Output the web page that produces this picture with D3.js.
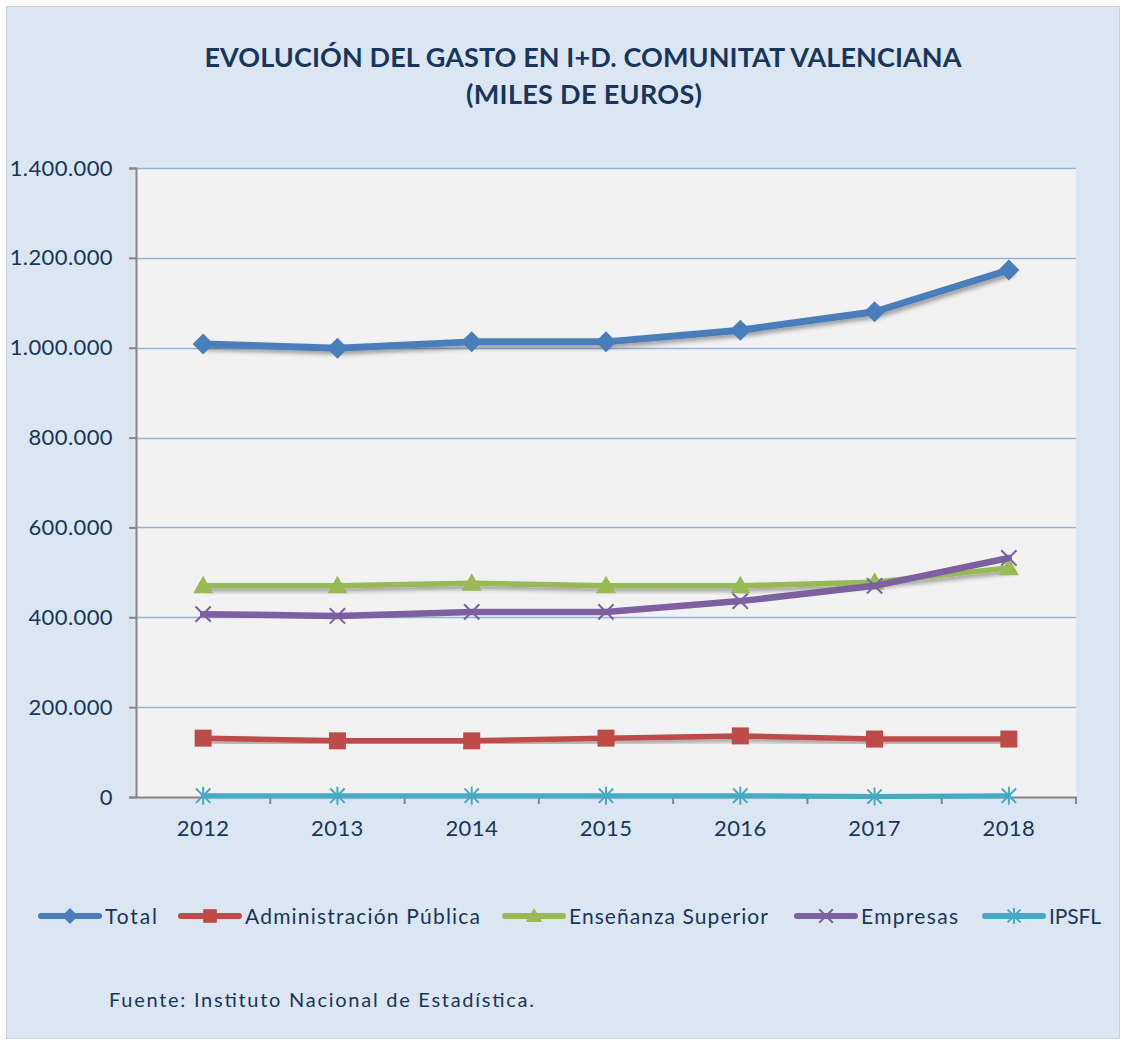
<!DOCTYPE html>
<html>
<head>
<meta charset="utf-8">
<script src="https://cdn.jsdelivr.net/npm/d3@7"></script>
<style>
  body { margin: 0; background: #ffffff; }
  svg { display: block; font-family: Lato, "Open Sans", sans-serif; }
</style>
</head>
<body>
<div id="chart"></div>
<script>
// data (miles de euros)
const years = ["2012", "2013", "2014", "2015", "2016", "2017", "2018"];
const total = [1008000, 999000, 1013000, 1013000, 1039000, 1080000, 1173000];
const administracion = [131000, 125000, 125000, 131000, 136000, 129000, 129000];
const ensenanza = [470000, 470000, 476000, 470000, 470000, 478000, 510000];
const empresas = [407000, 403000, 412000, 412000, 436000, 470000, 532000];
const ipsfl = [3000, 3000, 3000, 3000, 3000, 1000, 3000];
const yTicks = [0, 200000, 400000, 600000, 800000, 1000000, 1200000, 1400000];

const seriesNames = ["Total", "Administración Pública", "Enseñanza Superior", "Empresas", "IPSFL"];
const seriesValues = [total, administracion, ensenanza, empresas, ipsfl];
const colors = ["#4a7ebb", "#be4b48", "#98b954", "#7d60a0", "#46aac5"];
const markers = ["diamond", "square", "triangle", "cross", "asterisk"];

const W = 1126, H = 1045;
const plot = { left: 136, right: 1076, top: 168, bottom: 797 };

const svg = d3.select("#chart").append("svg")
  .attr("width", W)
  .attr("height", H);

// shadow filter for the lines
const defs = svg.append("defs");
const shadow = defs.append("filter").attr("id", "shadow")
  .attr("x", "-5%").attr("y", "-50%").attr("width", "110%").attr("height", "200%");
shadow.append("feDropShadow")
  .attr("dx", 3).attr("dy", 3).attr("stdDeviation", 2)
  .attr("flood-color", "#000").attr("flood-opacity", 0.35);

// outer background
svg.append("rect")
  .attr("x", 6.5).attr("y", 6.5)
  .attr("width", W - 13).attr("height", H - 13)
  .attr("fill", "#dce6f2")
  .attr("stroke", "#d0d0d0");

// plot background
svg.append("rect")
  .attr("x", plot.left).attr("y", plot.top)
  .attr("width", plot.right - plot.left).attr("height", plot.bottom - plot.top)
  .attr("fill", "#f2f2f2");

// scales
const x = d3.scaleBand().domain(years).range([plot.left, plot.right]);
const y = d3.scaleLinear().domain([0, 1400000]).range([plot.bottom, plot.top]);

const locale = d3.formatLocale({ decimal: ",", thousands: ".", grouping: [3], currency: ["", "€"] });
const fmt = locale.format(",d");

const textColor = "#17365d";

// gridlines
svg.append("g")
  .selectAll("line")
  .data(yTicks.slice(1))
  .join("line")
  .attr("x1", plot.left).attr("x2", plot.right)
  .attr("y1", (d) => Math.round(y(d)) + 0.5).attr("y2", (d) => Math.round(y(d)) + 0.5)
  .attr("stroke", "#95b3d7")
  .attr("stroke-width", 1.5);

// y axis
const yAxis = svg.append("g")
  .attr("transform", `translate(${plot.left},0)`)
  .call(d3.axisLeft(y).tickValues(yTicks).tickFormat(fmt).tickSize(7).tickPadding(16));
yAxis.select(".domain").attr("stroke", "#868686").attr("stroke-width", 2);
yAxis.selectAll(".tick line").attr("stroke", "#868686").attr("stroke-width", 2);
yAxis.selectAll("text")
  .attr("fill", textColor)
  .attr("font-size", 22)
  .attr("letter-spacing", 0.4)
  .attr("font-family", "Lato, sans-serif");

// x axis
const xAxis = svg.append("g")
  .attr("transform", `translate(0,${plot.bottom})`)
  .call(d3.axisBottom(x).tickSize(0).tickPadding(23));
xAxis.select(".domain").attr("stroke", "#868686").attr("stroke-width", 2);
xAxis.selectAll("text")
  .attr("fill", textColor)
  .attr("font-size", 22)
  .attr("letter-spacing", 0.4)
  .attr("font-family", "Lato, sans-serif");
// tick marks between categories
xAxis.append("g")
  .selectAll("line")
  .data(years)
  .join("line")
  .attr("x1", (d) => x(d) + x.bandwidth())
  .attr("x2", (d) => x(d) + x.bandwidth())
  .attr("y1", 0).attr("y2", 7)
  .attr("stroke", "#868686")
  .attr("stroke-width", 2);

// marker drawing
function drawMarker(g, type, color, size) {
  const s = size / 2;
  if (type === "diamond") {
    g.append("path").attr("d", `M0,${-s}L${s},0L0,${s}L${-s},0Z`).attr("fill", color);
  } else if (type === "square") {
    g.append("rect").attr("x", -s * 0.85).attr("y", -s * 0.85)
      .attr("width", s * 1.7).attr("height", s * 1.7).attr("fill", color);
  } else if (type === "triangle") {
    g.append("path").attr("d", `M0,${-s}L${s},${s * 0.75}L${-s},${s * 0.75}Z`).attr("fill", color);
  } else if (type === "cross") {
    const c = s * 0.85;
    g.append("path").attr("d", `M${-c},${-c}L${c},${c}M${-c},${c}L${c},${-c}`)
      .attr("stroke", color).attr("stroke-width", 2).attr("fill", "none");
  } else if (type === "asterisk") {
    const c = s * 0.8;
    g.append("path").attr("d", `M${-c},${-c}L${c},${c}M${-c},${c}L${c},${-c}M0,${-s}L0,${s}`)
      .attr("stroke", color).attr("stroke-width", 2).attr("fill", "none");
  }
}

const cx = (d, i) => x(years[i]) + x.bandwidth() / 2;
const line = d3.line().x(cx).y((d) => y(d));
const lineWidths = [7, 5.5, 5.5, 6.5, 5];
const markerSizes = [21, 20, 20, 18, 18];

// draw series, back to front like the reference
const order = [4, 1, 2, 3, 0];
order.forEach((k) => {
  const g = svg.append("g");
  g.append("path")
    .datum(seriesValues[k])
    .attr("d", line)
    .attr("fill", "none")
    .attr("stroke", colors[k])
    .attr("stroke-width", lineWidths[k])
    .attr("stroke-linejoin", "round")
    .attr("stroke-linecap", "round")
    .attr("filter", k === 3 || k === 4 ? null : "url(#shadow)");
  seriesValues[k].forEach((v, i) => {
    const mg = g.append("g").attr("transform", `translate(${cx(v, i)},${y(v)})`);
    drawMarker(mg, markers[k], colors[k], markerSizes[k]);
  });
});

// title
const title = svg.append("text")
  .attr("text-anchor", "middle")
  .attr("fill", textColor)
  .attr("font-weight", "bold")
  .attr("font-size", 27)
  .attr("font-family", "Lato, sans-serif");
title.append("tspan").attr("x", 583).attr("y", 67)
  .attr("textLength", 757).attr("lengthAdjust", "spacing")
  .text("EVOLUCIÓN DEL GASTO EN I+D. COMUNITAT VALENCIANA");
title.append("tspan").attr("x", 584).attr("y", 104)
  .attr("textLength", 236).attr("lengthAdjust", "spacing")
  .text("(MILES DE EUROS)");

// legend
const legendX = [41, 181, 505, 797, 985];
const legendTextW = [52, 235, 199, 97, 52];
const legendY = 916;
const legend = svg.append("g");
seriesNames.forEach((name, k) => {
  const lg = legend.append("g").attr("transform", `translate(${legendX[k]},${legendY})`);
  lg.append("line")
    .attr("x1", 0).attr("x2", 58)
    .attr("stroke", colors[k])
    .attr("stroke-width", 6)
    .attr("stroke-linecap", "round");
  const mg = lg.append("g").attr("transform", "translate(29,0)");
  drawMarker(mg, markers[k], colors[k], 16);
  lg.append("text")
    .attr("x", 64)
    .attr("y", 8)
    .attr("fill", textColor)
    .attr("font-size", 21)
    .attr("font-family", "Lato, sans-serif")
    .attr("textLength", legendTextW[k])
    .attr("lengthAdjust", "spacing")
    .text(name);
});

// source note
svg.append("text")
  .attr("x", 109)
  .attr("y", 1007)
  .attr("fill", textColor)
  .attr("font-size", 20)
  .attr("font-family", "Lato, sans-serif")
  .attr("textLength", 425)
  .attr("lengthAdjust", "spacing")
  .text("Fuente: Instituto Nacional de Estadística.");
</script>
</body>
</html>
